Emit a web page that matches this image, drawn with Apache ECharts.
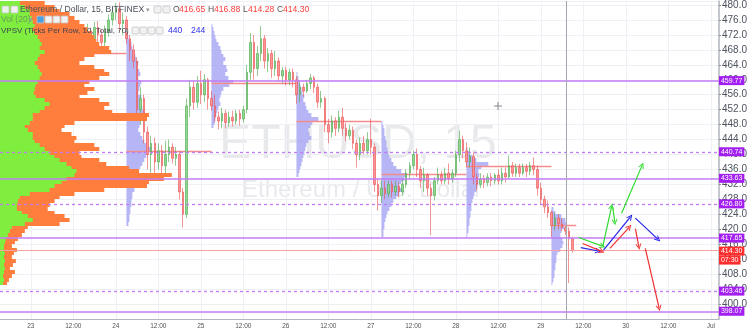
<!DOCTYPE html>
<html><head><meta charset="utf-8">
<script src="https://cdn.jsdelivr.net/npm/echarts@6/dist/echarts.min.js"></script>
<style>html,body{margin:0;padding:0;background:#fff}#c{width:750px;height:332px}</style>
</head><body><div id="c"></div>
<script>
// x unit: hours since 22 Jun 00:00
const X_MIN = 15.3, X_MAX = 218.3;
const Y_MIN = 396, Y_MAX = 481.07;
const xTickHours = [24,36,48,60,72,84,96,108,120,132,144,156,168,180,192,204,216];
const dayNames = {24:'23',48:'24',72:'25',96:'26',120:'27',144:'28',168:'29',192:'30',216:'Jul'};

// hourly candles [open, close, low, high] starting at candleStart
const candleStart = 27;
const candles = [
[461,463,459,465],[463,460,458,464],[460,462,458.5,463.5],[462,466,461,467],[466,464,462,468],
[464,467,463,469],[467,465,463,468.5],[465,468,464,470],[468,470,466,472],[470,467,465,471],
[467,469,466,471],[469,472,468,474],[472,470,468,473],[470,473,469,475],[473,471,469.5,474],
[471,474,470,475.5],[474,472,469.6,475.7],[472,470,468.5,473.5],[470,473,469,474.5],[473,476,471.5,477.5],
[476,478,474.5,479.5],[478,479,476,480.5],[479,475,473,480.7],[475,476,472,478],[476,471,469.5,477],
[471,468,465,472],[468,465,463,469.5],[465,452,449,466],[452,455,448,458],[455,446,443,456],
[446,440,436,447.5],[440,443,435,445],[443,438,434,444.5],[438,441,436,443],[441,437,433,442.5],
[437,440,434.5,443.7],[440,442,438,444],[442,439,437.6,443],[439,440,437,442],[440,430,428,441],
[430,424,420.5,431],[424,453,423,455],[453,458,450,460],[458,454,452,459.5],[454,459,452.5,461],
[459,456,453.5,462.4],[456,460,454,461.5],[460,455,452,460.5],[455,453,451.7,457],[453,450,448.5,456],
[450,449,446.7,451.5],[449,451,447,452.5],[451,448.5,447,452],[448.5,450,447.5,451.5],[450,449,447.5,451.7],
[449,451,448,452],[451,449.5,447.8,452],[449.5,452,448.5,453],[452,462,451,464],[462,470,460,472.5],
[470,463,460,472],[463,467,461,469],[467,471,465,474.4],[471,465,463,472],[465,467,462,468.5],
[467,463,460.5,468],[463,465,461,467.7],[465,461,459.5,466],[461,462.5,459,463.5],[462.5,460,458.5,463.5],
[460,462,458.5,463],[462,460,458,463],[460,456,453.6,461],[456,458,454,459.5],[458,457,455.5,459],
[457,459,456.5,460],[459,460.5,457.5,461.6],[460.5,458,456.5,461],[458,454,452.5,459],[454,455,452.5,457],
[455,448,446,455.5],[448,446,443,449.5],[446,449,444.5,450.5],[449,447,445,450],[447,450,446,451.7],
[450,447,445,452.5],[447,445,443.5,448.5],[445,446.5,444,448],[446.5,443,441.5,447.5],[443,440,436.5,444],
[440,443,438.5,444.5],[443,441,440,445],[441,444,440,446],[444,442,440,449.6],[442,432,430,443],
[432,429,425,433.5],[429,431,427,433],[431,429.5,428,433],[429.5,432,428.5,433],[432,430,428.5,433],
[430,431.5,429,433],[431.5,430,428.5,432.5],[430,432,429,433.5],[432,435,431,436],[435,437,433.5,438],
[437,440,436,441],[440,436,434,441.6],[436,433,431,437],[433,434.5,430,436.5],[434.5,431,429,435],
[431,429,418.4,432.3],[429,433,427.7,434],[433,434.5,432,436.5],[434.5,433,432,435.5],[433,435,432,436.5],
[435,433.5,432,437.6],[433.5,435,432.5,436],[435,440,434,441],[440,444,438,446.4],[444,441,439,445],
[441,438,436.5,443.2],[438,439.5,436.5,441.9],[439.5,434,432,440.5],[434,432,430.4,435],[432,433.5,431,435],
[433.5,432.5,431,434.5],[432.5,434,431.5,435],[434,433,431.5,435],[433,434.5,432,435],[434.5,433,432,436],
[433,435,432,436.5],[435,434,432.5,436.5],[434,437,433.5,439.7],[437,435,434,438],[435,436.5,434,437.6],
[436.5,435,434,437.5],[435,436.5,434.5,437.6],[436.5,435.5,434,437.5],[435.5,437,434.5,438],[437,436,434.5,439.2],
[436,431,429,437],[431,428,426.5,432.5],[428,426,424.3,429],[426,424.5,423,427.7],[424.5,421,417.9,425],
[421,423,419.7,424.3],[423,421.5,420,424],[421.5,420.5,419.5,423],[420.5,419.5,418.5,420.8],[419.5,417.5,405.6,420.5],
[417.5,414.3,413.8,418]
];

// visible-range volume profile (rows of 1 price unit, from top row down)
const profileTop = 480;
const profileUp = [20,25,30,30,32,33,35,33,35,38,40,42,40,45,40,38,35,38,40,42,40,38,36,35,34,36,45,50,45,40,33,33,30,25,28,33,33,35,40,45,50,55,60,67,72,77,75,67,62,55,50,30,20,18,17,17,22,28,33,25,12,10,8,6,5,4,4,5,4,5,4,5,4,3,4,3];
const profileDown = [25,30,30,40,43,47,50,55,57,57,57,58,70,67,55,47,45,57,65,68,60,52,49,60,54,44,55,60,60,73,117,115,45,40,34,39,44,40,55,55,30,27,40,40,58,63,98,98,88,93,55,45,40,37,33,31,33,37,37,35,16,15,14,12,10,8,13,9,8,11,9,5,11,9,5,4];

// session volume profiles: start hour, top price row, volumes from top row down
const sessionStarts = [51,75,99,123,147,171];
const sessionTops = [471,474,461,448,441,425];
const sessionVols = [
[2,4,5,6,8,9,10,12,11,13,14,12,15,14,13,12,15,14,13,16,18,20,18,14,13,12,14,16,18,20,25,22,20,18,16,14,12,14,12,10,9,8,6,6,5,5,4,4,3,3,2],
[1,2,3,4,5,7,9,10,12,14,12,15,16,14,17,22,18,12,10,9,8,9,7,6,5,4,3,2],
[1,2,3,4,5,6,8,7,9,10,12,15,22,16,14,12,13,15,12,10,9,8,7,6,5,4,3,2],
[1,2,3,3,4,5,5,6,7,8,10,12,15,20,25,23,20,18,22,18,15,12,10,8,6,5,4,3,3,2,2],
[1,3,6,10,22,15,12,13,12,12,11,10,8,7,6,5,5,4,4,3,3,2,2,1],
[2,4,10,14,15,13,10,9,11,12,11,9,6,5,5,4,4,3,3,2,1]
];
// session point-of-control lines [startHour, endHour, price]
const pocLines = [[27,51,467.2],[51,75,440.8],[75,99,459],[99,123,449],[123,147,434.7],[147,171,436.8],[171,178,421.2]];

const levelsSolid = [459.77,433.63,417.65,398.07];
const levelsDashed = [440.74,426.80,403.46];
const lastPrice = 414.30;
const countdown = '07:30';
const cursorLineHour = 175.1;

// projection arrows [[hour, price],[hour, price]]
const arrowsGreen = [[[178.7,417.8],[185.4,415.5]],[[185.5,415.5],[188.0,426.1]],[[188.3,425.9],[188.9,421.9]],[[190.8,424.3],[196.6,437.1]]];
const arrowsBlue = [[[179.3,415.1],[184.2,414.2]],[[185.7,414.4],[193.3,423.3]],[[194.7,423.0],[201.1,417.3]]];
const arrowsRed = [[[179.8,416.2],[185.2,414.1]],[[187.5,414.9],[193.0,420.6]],[[194.7,420.2],[195.7,415.3]],[[197.5,414.9],[201.4,398.9]]];

const header = {title:'Ethereum / Dollar, 15, BITFINEX', o:'416.65', h:'416.88', l:'414.28', c:'414.30',
  vol:'Vol (20)', vpsv:'VPSV (Ticks Per Row, 10, Total, 70)', v1:'440', v2:'244'};

// ---------------------------------------------------------------
const FONT = '"Liberation Sans", Arial, sans-serif';
const VK = (X_MAX - X_MIN) / 724; // hours per volume unit
const LEVEL = '#c27cf7', TAG = '#a21ff0';

const candleData = candles.map((c, i) => [candleStart + i, c[0], c[1], c[2], c[3]]);
const profileData = profileUp.map((u, i) => [profileTop - i, u, profileDown[i]]);
const sessionData = [];
sessionVols.forEach((vols, s) => vols.forEach((v, i) => sessionData.push([sessionStarts[s], sessionTops[s] - i, v])));

function rectBetween(api, a, b, style) {
  const p1 = api.coord(a), p2 = api.coord(b);
  const y1 = Math.round(Math.min(p1[1], p2[1])), y2 = Math.round(Math.max(p1[1], p2[1]));
  const x1 = Math.min(p1[0], p2[0]), x2 = Math.max(p1[0], p2[0]);
  return {type:'rect', shape:{x:x1, y:y1, width:x2 - x1, height:Math.max(1, y2 - y1)}, style};
}
const chevron = 'path://M0,10 L5,0 L10,10 L8.3,10 L5,3.4 L1.7,10 Z';
function arrowSeries(list, color) {
  return {type:'lines', coordinateSystem:'cartesian2d', z:6, silent:true,
    symbol:['none', chevron], symbolSize:6,
    lineStyle:{color, width:1.2, opacity:1},
    data: list.map(seg => ({coords: seg}))};
}
const tagLabel = (bg) => ({show:true, position:'end', distance:0, color:'#fff', backgroundColor:bg,
  padding:[1,2,1,2], fontSize:7, fontFamily:FONT, formatter: p => Number(p.value).toFixed(2)});

const levelData = [
  ...levelsSolid.map(v => ({yAxis:v, lineStyle:{color:LEVEL, width:1.6, type:'solid'}, label:tagLabel(TAG)})),
  ...levelsDashed.map(v => ({yAxis:v, lineStyle:{color:LEVEL, width:1.3, type:[3,3]}, label:tagLabel(TAG)})),
  {yAxis:lastPrice, lineStyle:{color:'#f7a3a3', width:1, type:'solid'},
   label:{show:true, position:'end', distance:0, offset:[0,5], fontFamily:FONT,
     formatter: p => '{a|' + Number(p.value).toFixed(2) + '}\n{b|' + countdown + '}',
     rich:{a:{backgroundColor:'#ff2e2e', color:'#fff', fontSize:7, padding:[1,2,1,2], lineHeight:9},
           b:{backgroundColor:'#ff2e2e', color:'#fff', fontSize:7, padding:[1,2,1,2], lineHeight:9}}}},
  {xAxis:cursorLineHour, lineStyle:{color:'#a3a6ae', width:1, type:'solid'}, label:{show:false}}
];

const txt = (x, y, text, fill, size, extra) => Object.assign({type:'text', x, y, z:100,
  style:{text, fill, font: size + 'px ' + FONT, verticalAlign:'middle'}}, extra || {});
const btn = (x, y, fill) => ({type:'rect', z:100, shape:{x, y, width:7, height:7, r:1}, style:{fill: fill || '#f2f2f2', stroke:'#c4c4c4', lineWidth:0.8}});

const graphics = [
  {type:'text', x:358, y:145, z:0, silent:true, style:{text:'ETHUSD, 15', fill:'rgba(120,123,134,0.17)', font:'48px ' + FONT, align:'center', verticalAlign:'middle'}},
  {type:'text', x:362, y:190, z:0, silent:true, style:{text:'Ethereum / U.S. Dollar', fill:'rgba(120,123,134,0.17)', font:'24px ' + FONT, align:'center', verticalAlign:'middle'}},
  btn(2,6,'#e9f5e9'), btn(11,6),
  txt(20,10,header.title,'#4a4f5a',8.6),
  txt(146,10,'▾','#9a9a9a',7),
  btn(154,6), btn(163,6),
  txt(173,10,'O','#555',8.6), txt(179,10,header.o,'#ff3b3b',8.6),
  txt(208,10,'H','#555',8.6), txt(214,10,header.h,'#ff3b3b',8.6),
  txt(243,10,'L','#555',8.6), txt(248,10,header.l,'#ff3b3b',8.6),
  txt(277,10,'C','#555',8.6), txt(283,10,header.c,'#ff3b3b',8.6),
  txt(1,20,header.vol,'rgba(90,90,110,0.55)',8.6),
  txt(29,20,'▾','#9a9a9a',7),
  btn(37,16,'#4a9fe0'), btn(45,16), btn(53,16), btn(61,16),
  txt(1,31,header.vpsv,'#3d4250',8),
  txt(125,31,'▾','#9a9a9a',7),
  btn(132,27), btn(140,27), btn(148,27), btn(156,27),
  txt(168,31,header.v1,'#2f2fe8',8.6), txt(191,31,header.v2,'#2f2fe8',8.6),
  {type:'line', z:100, shape:{x1:494, y1:106, x2:502, y2:106}, style:{stroke:'#888', lineWidth:1}},
  {type:'line', z:100, shape:{x1:498, y1:102, x2:498, y2:110}, style:{stroke:'#888', lineWidth:1}}
];

const chart = echarts.init(document.getElementById('c'), null, {renderer:'canvas'});
chart.setOption({
  animation:false,
  textStyle:{fontFamily:FONT},
  grid:{left:0, right:26, top:0, bottom:13, containLabel:false},
  xAxis:{type:'value', min:X_MIN, max:X_MAX,
    axisLine:{show:true, lineStyle:{color:'#b2b5be', width:1}},
    axisTick:{show:false, customValues:xTickHours},
    axisLabel:{customValues:xTickHours, fontSize:6.5, color:'#555', margin:4, fontFamily:FONT,
      formatter: v => dayNames[v] || '12:00'},
    splitLine:{show:true, lineStyle:{color:'#eef0f6', width:1}}},
  yAxis:{type:'value', position:'right', min:Y_MIN, max:Y_MAX, interval:4,
    axisLine:{show:true, lineStyle:{color:'#b2b5be', width:1.5}},
    axisTick:{show:true, length:2, lineStyle:{color:'#888'}},
    axisLabel:{showMinLabel:false, showMaxLabel:false, fontSize:10, color:'#4c525e', margin:3, fontFamily:FONT,
      formatter: v => v.toFixed(1)},
    splitLine:{show:true, lineStyle:{color:'#eef0f6', width:1}}},
  graphic: graphics,
  series:[
    {type:'custom', name:'sessions', z:1, silent:true, data:sessionData,
     renderItem:(params, api) => rectBetween(api, [api.value(0), api.value(1)+1], [api.value(0) + api.value(2)*VK, api.value(1)],
        {fill:'#a9a9f5', opacity:0.85})},
    {type:'lines', coordinateSystem:'cartesian2d', z:1, silent:true, symbol:['none','none'],
     lineStyle:{color:'#f48c8c', width:1.4, opacity:1},
     data: pocLines.map(l => ({coords:[[l[0], l[2]], [l[1], l[2]]]}))},
    {type:'candlestick', name:'ETHUSD', z:2, data:candleData, encode:{x:0, y:[1,2,3,4]}, barWidth:2,
     itemStyle:{color:'#93d693', color0:'#ff9494', borderColor:'#45a845', borderColor0:'#e84e4e', borderWidth:0.6},
     markLine:{symbol:['none','none'], silent:true, animation:false, data: levelData}},
    {type:'custom', name:'profile', z:3, silent:true, data:profileData,
     renderItem:(params, api) => {
       const p = api.value(0), up = api.value(1), dn = api.value(2);
       return {type:'group', children:[
         rectBetween(api, [X_MIN, p+1], [X_MIN + (up+dn)*VK, p], {fill:'#ff7d3d'}),
         rectBetween(api, [X_MIN, p+1], [X_MIN + up*VK, p], {fill:'#7fee3f'})
       ]};
     }},
    arrowSeries(arrowsGreen, '#2fdc2f'),
    arrowSeries(arrowsBlue, '#2323ee'),
    arrowSeries(arrowsRed, '#f03030')
  ]
});
</script></body></html>
